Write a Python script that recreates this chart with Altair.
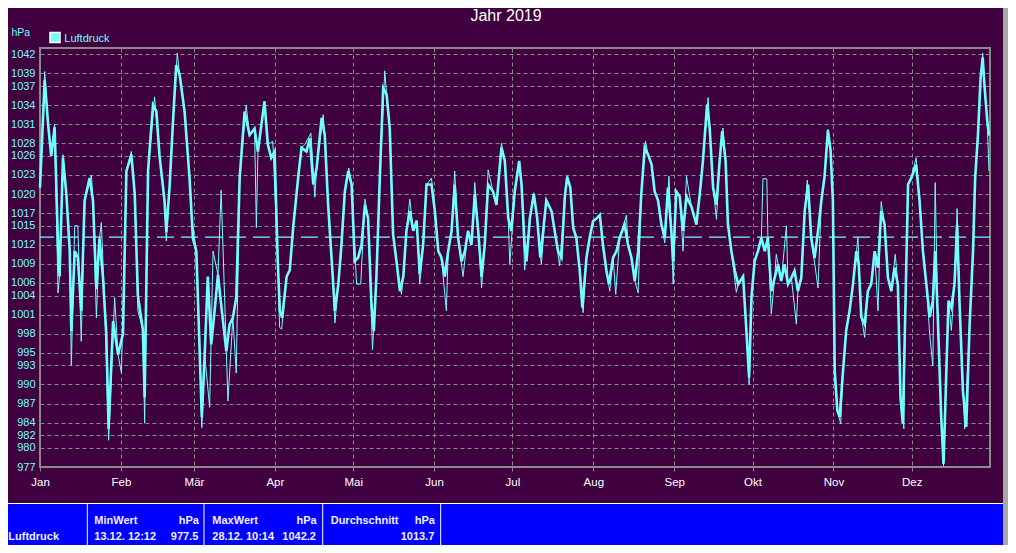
import json
import altair as alt
import pandas as pd

# ---------------- data ----------------
title_text = "Jahr 2019"
unit_text = "hPa"
series_name = "Luftdruck"

month_starts = [0, 31, 59, 90, 120, 151, 181, 212, 243, 273, 304, 334]
month_names = ["Jan", "Feb", "Mär", "Apr", "Mai", "Jun", "Jul", "Aug", "Sep", "Okt", "Nov", "Dez"]

y_ticks = [1042, 1039, 1037, 1034, 1031, 1028, 1026, 1023, 1020, 1017, 1015, 1012,
           1009, 1006, 1004, 1001, 998, 995, 993, 990, 987, 984, 982, 980, 977]

mean_hpa = 1013.2

# main (thick) trace: day of year, hPa
main_day = [0, 1.8, 3.1, 4.3, 5.6, 6.9, 7.5, 8.8, 10.1, 11.4, 12.0, 13.3, 14.5, 15.8, 17.1, 19.0,
            20.3, 21.6, 22.8, 24.1, 25.4, 26.3, 28.0, 29.9, 31.8, 33.1, 35.0, 36.3, 37.5, 39.4,
            40.1, 41.4, 43.3, 44.6, 45.8, 47.7, 48.4, 49.7, 50.9, 52.2, 53.5, 55.4, 57.3, 58.6,
            59.9, 61.1, 62.0, 63.1, 64.3, 65.6, 66.9, 68.2, 69.4, 71.4, 72.6, 73.9, 75.2, 76.5,
            78.4, 80.3, 82.2, 83.5, 86.0, 87.3, 88.6, 89.9, 91.1,
            91.9, 92.8, 94.5, 95.7, 97.0, 98.9, 100.2, 102.1, 103.4, 104.7, 106.0, 107.9, 109.1,
            110.4, 111.7, 113.0, 114.3, 115.5, 116.8, 118.1, 119.4, 120.6, 121.9, 123.2, 124.5,
            125.7, 127.0, 127.9, 128.9, 130.2, 131.5, 132.8, 134.0, 135.3, 136.6, 137.9, 139.2,
            140.4, 141.7, 143.0, 144.3, 145.5, 146.8, 148.1, 150.0, 151.3, 152.6, 153.8, 155.1,
            156.4, 157.7, 158.9, 160.2, 161.5, 162.8, 164.0, 165.3, 166.6, 167.9, 169.2, 170.4,
            171.7, 173.6, 174.9, 176.8, 178.1, 179.4, 180.6,
            181.9, 183.6, 184.5, 185.7, 186.4, 187.7, 189.2, 190.5, 191.7, 192.8, 194.0, 196.0,
            197.2, 198.5, 199.8, 201.1, 202.0, 203.2, 204.3, 205.5, 206.8, 207.8, 209.4, 210.6,
            211.9, 213.4, 214.5, 215.7, 217.0, 218.0, 219.6, 220.9, 222.1, 224.0, 225.3, 226.6,
            227.9, 229.2, 230.4, 231.7, 233.0, 234.3, 235.5, 236.8, 238.1, 239.4, 240.6, 241.9,
            242.6, 243.8, 245.1, 246.4, 247.7, 249.6, 251.5, 252.8, 254.0, 255.6, 256.6, 257.9,
            259.2, 260.4, 261.4, 262.7, 263.6, 264.9, 266.2, 267.5, 269.4, 270.6, 271.7, 272.6,
            273.8,
            275.1, 276.4, 277.7, 278.9, 280.2, 281.5, 282.8, 284.0, 285.3, 286.6, 287.9, 289.1,
            290.4, 291.7, 293.0, 294.3, 295.5, 296.8, 298.1, 299.4, 300.6, 301.9, 302.9, 303.8,
            304.5, 305.5, 306.4, 307.7, 308.9, 310.2, 311.5, 312.8, 313.7, 314.7, 316.0, 317.2,
            318.5, 319.8, 321.1, 322.3, 323.6, 324.9, 326.2, 327.4, 328.7, 329.7, 330.6, 331.5,
            332.6, 333.8, 335.7, 337.0, 338.3, 339.6, 340.9, 342.1, 343.0, 344.0, 345.3, 346.2,
            347.2, 348.1, 349.2, 350.4, 351.4, 352.3, 353.6, 354.9, 356.2, 357.5, 358.3, 359.4,
            360.4, 361.2, 361.9, 362.9, 363.6]
main_hpa = [1021, 1038, 1031, 1026, 1030.5, 1012, 1007, 1025.7, 1020, 1011, 998.4, 1011, 1010,
            1001.6, 1019, 1022.5, 1019, 1005, 1013, 1007, 998, 983, 1000, 994.7, 998, 1023.6,
            1026.2, 1020, 1004, 998.7, 988, 1023.6, 1034, 1033, 1026, 1019, 1014, 1021.5, 1031,
            1040.3, 1038.8, 1033, 1022.5, 1013, 1011, 996.3, 984.8, 994.7, 1007, 996.3, 1001.6,
            1007.3, 1002.6, 995.2, 999.4, 1000.5, 1003.7, 1022.5, 1033, 1029.3, 1030.3, 1026.7,
            1034.6, 1027.8, 1025.7, 1026.7, 1009.4,
            1001.6, 1000.5, 1007, 1008, 1014.7, 1022.5, 1027.3, 1026.7, 1028.8, 1021.5, 1024.1,
            1032, 1029.3, 1018.3, 1010, 1001.6, 1005.8, 1012, 1020.4, 1023.6, 1021.5, 1009.4,
            1010, 1012, 1018.3, 1016.2, 1002.6, 998.4, 1007, 1022.5, 1036.7, 1035.7, 1030.4,
            1013.6, 1009.4, 1004.7, 1007, 1014.2, 1017.3, 1014.2, 1015.8, 1007.4, 1012, 1021.5,
            1021.5, 1017.3, 1011, 1010, 1007, 1011, 1014.2, 1021.5, 1013.1, 1009.4, 1011, 1014.2,
            1012, 1020, 1014.2, 1007, 1012, 1021.5, 1020.4, 1018.3, 1027.3, 1025.2, 1016.2,
            1014.2,
            1020.4, 1025.2, 1021.5, 1012, 1009.4, 1016.2, 1020, 1016.2, 1010, 1014.2, 1019,
            1017.3, 1014.2, 1011, 1010, 1019.6, 1022.7, 1021, 1014.7, 1013.1, 1008, 1002.1, 1010,
            1013.1, 1015.7, 1016.2, 1016.7, 1012, 1008, 1005.8, 1010, 1011, 1013.1, 1015.2, 1012,
            1010, 1006.3, 1011, 1020, 1027.3, 1026.2, 1024.7, 1020.4, 1019, 1015.2, 1013.1, 1021,
            1014.2, 1009.4, 1020.4, 1019.6, 1014.2, 1019.6, 1018, 1015.2, 1020, 1025.2, 1034.1,
            1030.4, 1021, 1018.3, 1025.2, 1029.9, 1025.2, 1015.2, 1011, 1008, 1005.8, 1007,
            998.9, 991.1, 1003.7, 1009.4,
            1011, 1013.1, 1011, 1013.1, 1004.7, 1006.8, 1008.9, 1006.3, 1008.9, 1005.8, 1006.8,
            1007.9, 1004.7, 1006.8, 1017.3, 1021.5, 1013.1, 1009.9, 1014.2, 1019, 1022.7, 1030,
            1026.9, 1019, 992.2, 985.9, 984.9, 992.2, 998.5, 1001.6, 1005.8, 1011, 1008.9,
            1000.6, 999.5, 1004.7, 1005.8, 1011, 1008.4, 1017.3, 1015.2, 1006.8, 1004.7, 1008.4,
            1005.8, 988, 983.8, 1000.6, 1021.5, 1022.5, 1024.6, 1019, 1011, 1005.8, 1000.6,
            1003.2, 1011, 1000.6, 984.9, 977.5, 991.1, 1003.2, 1002.1, 1005.8, 1015.2, 1003.2,
            989.1, 983.3, 999.5, 1011, 1022.5, 1029.4, 1038.3, 1041.5, 1037, 1031.8, 1029.2]

# second (thin) trace
thin_day = [0, 1.8, 3.1, 4.3, 5.6, 6.9, 7.5, 8.8, 10.1, 11.4, 12.0, 13.3, 14.5, 15.8, 17.1, 19.7,
            20.3, 21.6, 22.8, 23.5, 24.8, 26.3, 28.6, 29.9, 31.2, 33.1, 35.0, 36.3, 37.5, 39.4,
            40.1, 41.4, 43.9, 45.8, 47.7, 48.4, 49.7, 50.9, 52.6, 53.5, 55.4, 57.3, 58.0, 59.9,
            61.1, 62.0, 63.1, 65.0, 66.3, 68.2, 69.4, 71.4, 72.0, 73.9, 75.2, 76.5, 79.0, 80.3,
            82.2, 82.9, 83.5, 86.0, 87.3, 89.2, 91.1, 91.8,
            92.6, 94.5, 95.7, 97.0, 98.9, 100.2, 101.5, 103.8, 105.3, 106.0, 108.5, 109.1, 110.4,
            111.7, 113.0, 114.3, 115.5, 116.8, 118.3, 119.4, 121.3, 122.9, 124.5, 125.7, 127.4,
            128.9, 130.2, 132.1, 132.8, 134.0, 135.3, 136.6, 138.5, 139.2, 140.4, 141.7, 143.0,
            144.3, 145.5, 146.8, 148.1, 150.0, 151.3, 152.6, 153.8, 155.7, 156.4, 157.7, 158.9,
            160.2, 162.1, 164.0, 165.3, 166.6, 167.9, 169.2, 170.4, 171.7, 173.6, 174.9, 176.8,
            178.1, 179.4, 180.0,
            181.9, 183.6, 184.5, 185.7, 187.7, 189.2, 190.5, 192.1, 194.0, 196.0, 197.2, 199.1,
            201.1, 202.0, 203.2, 204.3, 205.5, 206.8, 208.1, 209.4, 210.6, 211.9, 213.4, 214.5,
            215.7, 217.0, 218.3, 219.6, 220.6, 222.1, 224.7, 225.3, 226.6, 227.9, 229.2, 230.4,
            232.0, 233.0, 234.3, 235.5, 236.8, 238.1, 239.4, 241.0, 241.9, 242.6, 243.8, 245.1,
            246.4, 247.7, 249.6, 251.5, 252.8, 254.0, 256.0, 256.6, 257.9, 259.2, 260.4, 261.7,
            262.7, 263.6, 264.9, 266.8, 267.5, 269.4, 270.6, 271.7, 272.6, 273.8,
            275.1, 276.4, 277.0, 278.5, 278.9, 280.2, 281.5, 282.1, 284.0, 286.0, 286.6, 287.9,
            289.8, 290.4, 291.7, 293.0, 294.0, 295.5, 298.1, 299.4, 300.6, 301.9, 302.9, 303.8,
            304.5, 305.5, 306.8, 307.7, 308.9, 310.2, 311.5, 313.4, 314.7, 316.0, 317.2, 318.5,
            319.8, 321.1, 322.3, 323.6, 324.9, 326.2, 327.7, 328.7, 329.7, 331.0, 331.5, 332.6,
            333.8, 335.7, 337.0, 338.3, 339.6, 340.9, 342.1, 343.0, 344.0, 345.3, 346.2, 347.2,
            348.1, 349.2, 350.4, 351.4, 352.3, 354.3, 356.2, 357.5, 358.3, 359.4, 360.4, 361.2,
            361.9, 362.9, 363.6]
thin_hpa = [1021.7, 1039.3, 1031, 1026, 1031, 1004.4, 1007, 1026.2, 1020, 1011, 993, 1015, 1015,
            996.8, 1019, 1023, 1019, 1000.5, 1013, 1015.5, 1002.6, 981.2, 1003.7, 994.7, 991.8,
            1023.6, 1026.7, 1020, 1001.6, 998.7, 983.9, 1023.6, 1035.3, 1026, 1019, 1012.6,
            1021.5, 1031, 1042.2, 1038.8, 1033, 1022.5, 1016.5, 1011, 996.3, 983.2, 994.7, 986.4,
            1011, 1007.3, 1020.6, 995.2, 987.4, 1000.5, 991.8, 1022.5, 1034, 1029.3, 1030.3,
            1014.7, 1026.7, 1034.6, 1027.8, 1028.3, 1009.4, 999,
            998.7, 1007, 1008, 1014.7, 1022.5, 1027.3, 1027.8, 1029.6, 1019.5, 1024.1, 1032.5,
            1029.3, 1018.3, 1010, 999.7, 1005.8, 1011, 1020.4, 1024.1, 1021.5, 1005.8, 1005.8,
            1019.2, 1016.2, 995.5, 1007, 1022.5, 1039.4, 1035.7, 1030.4, 1013.6, 1009.4, 1004.2,
            1007, 1014.2, 1019.2, 1014.2, 1015.8, 1005.8, 1012, 1021.5, 1022.5, 1017.3, 1011,
            1010, 1001.6, 1011, 1014.2, 1023.6, 1013.1, 1007, 1014.2, 1012, 1021.8, 1014.2,
            1005.2, 1012, 1023.8, 1020.4, 1018.3, 1028, 1025.2, 1016.2, 1008.9,
            1020.4, 1025.2, 1021.5, 1008, 1016.2, 1020.2, 1016.2, 1008.9, 1019.2, 1017.3, 1014.2,
            1008.7, 1019.6, 1022.9, 1021, 1014.7, 1013.1, 1008, 1001.3, 1010, 1013.1, 1015.7,
            1016.2, 1016.5, 1012, 1008, 1004.7, 1010, 1004.2, 1013.1, 1016.7, 1012, 1010, 1006.3,
            1004.4, 1020, 1028.3, 1026.2, 1024.7, 1020.4, 1019, 1015.2, 1012.3, 1022.8, 1014.2,
            1005.8, 1020.4, 1019.6, 1011, 1022.8, 1018, 1015.2, 1020, 1025.2, 1035.2, 1030.4,
            1021, 1016, 1025.2, 1030.4, 1025.2, 1015.2, 1011, 1004.5, 1005.8, 1007, 998.9, 990,
            1003.7, 1009.4,
            1011, 1013.1, 1022.4, 1022.4, 1013.1, 1001.1, 1006.8, 1010.5, 1006.3, 1015, 1005.8,
            1006.8, 999.5, 1004.7, 1006.8, 1017.3, 1022.2, 1013.1, 1005.2, 1019, 1022.7, 1030.2,
            1026.9, 1019, 992.2, 985.9, 983.8, 992.2, 998.5, 1001.6, 1005.8, 1013.1, 1000.6,
            997.4, 1004.7, 1005.8, 1011, 1001.6, 1018.8, 1015.2, 1006.8, 1004.7, 1010.5, 1005.8,
            988, 983, 1000.6, 1021.5, 1022.5, 1025.7, 1019, 1011, 1005.8, 997.9, 992.9, 1021.8,
            1000.6, 984.9, 977.2, 991.1, 1003.2, 998.5, 1005.8, 1017.7, 1003.2, 983, 999.5, 1011,
            1022.5, 1029.4, 1038.3, 1042.2, 1037, 1031.8, 1023.6]

# summary table
table_row_label = ["Luftdruck", "MaxWert"]
table_heads = ["MinWert", "MaxWert", "Durchschnitt"]
table_units = ["hPa", "hPa", "hPa"]
table_times = ["13.12.  12:12", "28.12.  10:14", ""]
table_values = ["977.5", "1042.2", "1013.7"]

# ---------------- styling ----------------
W, H = 950, 419
BG = "#400040"
CYAN = "#70FFFF"
GRID = "#8a8a8a"
FONT = "Liberation Sans"
TABLE_TXT = "#F0F0FF"

main_df = pd.DataFrame({"day": main_day, "hpa": main_hpa})
thin_df = pd.DataFrame({"day": thin_day, "hpa": thin_hpa})
mean_df = pd.DataFrame({"hpa": [mean_hpa]})
one = pd.DataFrame({"k": [0]})

label_expr = "{}[indexof({}, datum.value)]".format(json.dumps(month_names, ensure_ascii=False),
                                                   json.dumps(month_starts))

x_enc = alt.X("day:Q",
              scale=alt.Scale(domain=[0, 364], nice=False, zero=False),
              axis=alt.Axis(values=month_starts, labelExpr=label_expr, title=None,
                            grid=True, gridColor=GRID, gridDash=[4, 3], gridWidth=1,
                            domain=False, ticks=True, tickColor=GRID, tickSize=4,
                            labelColor="white", labelFont=FONT, labelFontSize=11.5,
                            labelPadding=5, labelFlush=False, labelOverlap=False))
y_enc = alt.Y("hpa:Q",
              scale=alt.Scale(domain=[977, 1043], nice=False, zero=False),
              axis=alt.Axis(values=y_ticks, format="d", title=None, grid=True, gridColor=GRID,
                            gridDash=[4, 3], gridWidth=1, domain=False, ticks=False,
                            labelColor=CYAN, labelFont=FONT, labelFontSize=11,
                            labelPadding=5, labelOverlap=False, labelBound=False))

mean_rule = alt.Chart(mean_df).mark_rule(color=CYAN, strokeDash=[17, 7], strokeWidth=1.2).encode(y=y_enc)
thin_line = alt.Chart(thin_df).mark_line(color=CYAN, strokeWidth=1).encode(x=x_enc, y=y_enc)
main_line = alt.Chart(main_df).mark_line(color=CYAN, strokeWidth=2.6).encode(x=x_enc, y=y_enc)


def txt(s, x, y, align="left", color="white", size=11, weight="normal", font=FONT):
    return alt.Chart(one).mark_text(text=s, align=align, baseline="alphabetic", color=color,
                                    fontSize=size, fontWeight=weight, font=font).encode(
        x=alt.value(x), y=alt.value(y))


def rect(x, x2, y, y2, fill, stroke=None, sw=0):
    kw = {"fill": fill}
    if stroke:
        kw["stroke"] = stroke
        kw["strokeWidth"] = sw
    return alt.Chart(one).mark_rect(**kw).encode(
        x=alt.value(x), x2=alt.value(x2), y=alt.value(y), y2=alt.value(y2))


def hrule(x, x2, y, color):
    return alt.Chart(one).mark_rule(color=color, strokeWidth=1).encode(
        x=alt.value(x), x2=alt.value(x2), y=alt.value(y))


def vrule(x, y, y2, color):
    return alt.Chart(one).mark_rule(color=color, strokeWidth=1).encode(
        x=alt.value(x), y=alt.value(y), y2=alt.value(y2))


layers = [mean_rule, thin_line, main_line]

# title, unit and legend
layers.append(txt(title_text, 466, -27.3, align="center", size=16))
layers.append(txt(unit_text, -28.5, -12, color=CYAN, size=10.5))
layers.append(rect(10, 20, -15.5, -5.5, CYAN, "white", 1.5))
layers.append(txt(series_name, 24.3, -6.3, color=CYAN, size=11))

# bottom summary panel
layers.append(rect(-32, 963, 456, 500, "#0000FF"))
layers.append(hrule(-32, 963, 455.5, "white"))
for sx in [47.3, 164, 282.7, 400.7]:
    layers.append(vrule(sx, 456, 500, "white"))

layers.append(txt(table_row_label[0], -31.7, 492, color=TABLE_TXT, weight="bold"))
layers.append(txt(table_row_label[1], -31.7, 508, color=TABLE_TXT, weight="bold"))

col_left = [54.3, 172.3, 290.7]
col_right = [159, 276.7, 395]
for i in range(3):
    layers.append(txt(table_heads[i], col_left[i], 476, color=TABLE_TXT, weight="bold"))
    layers.append(txt(table_units[i], col_right[i], 476, align="right", color=TABLE_TXT, weight="bold"))
    if table_times[i]:
        layers.append(txt(table_times[i], col_left[i], 492, color=TABLE_TXT, weight="bold"))
    layers.append(txt(table_values[i], col_right[i] - 0.7, 492, align="right", color=TABLE_TXT, weight="bold"))

# window edge strip on the right
layers.append(rect(963, 968, -40, 497, "#A8A8A8"))

chart = alt.layer(*layers).properties(
    width=W, height=H,
    padding={"left": 32, "top": 40, "right": 18, "bottom": 78},
    autosize=alt.AutoSizeParams(type="none"),
).configure(background=BG).configure_view(stroke=GRID, strokeWidth=2, fill=BG)

chart.save("out.html", embed_options={"renderer": "svg", "actions": False})
